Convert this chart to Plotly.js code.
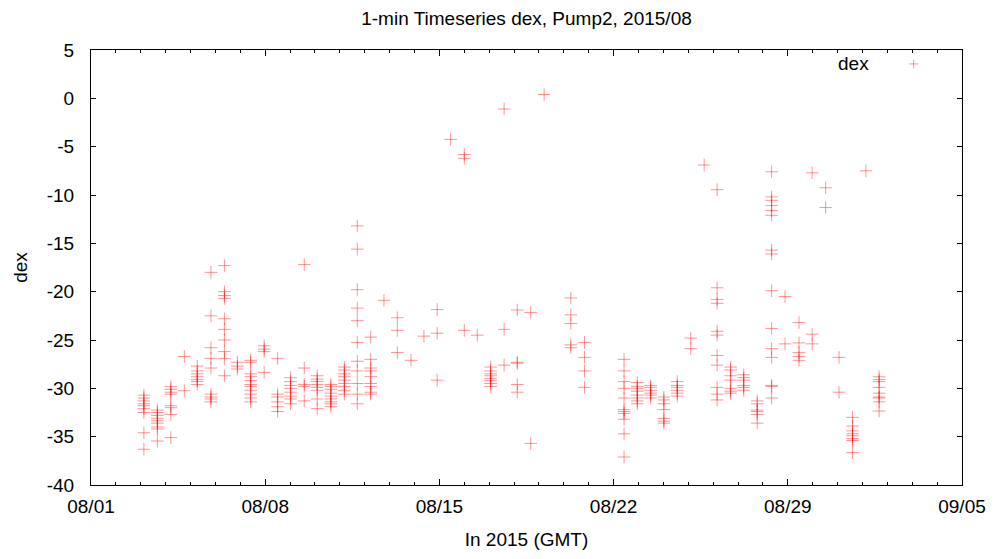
<!DOCTYPE html>
<html>
<head>
<meta charset="utf-8">
<script src="https://cdn.plot.ly/plotly-3.0.1.min.js"></script>
<style>
html,body{margin:0;padding:0;background:#fff;}
#chart{width:998px;height:559px;}
</style>
</head>
<body>
<div id="chart"></div>
<script>
// Time of each measurement burst (GMT)
const clusterTimes = [
  "2015-08-03 03:00","2015-08-03 16:00","2015-08-04 05:00","2015-08-04 18:00",
  "2015-08-05 06:30","2015-08-05 19:40","2015-08-06 08:40","2015-08-06 21:10",
  "2015-08-07 10:00","2015-08-07 23:00","2015-08-08 12:00","2015-08-09 00:30",
  "2015-08-09 13:40","2015-08-10 02:10","2015-08-10 15:20","2015-08-11 04:20",
  "2015-08-11 16:50","2015-08-12 05:45","2015-08-12 18:30","2015-08-13 07:25",
  "2015-08-13 20:40","2015-08-14 09:05","2015-08-14 21:50","2015-08-15 10:50",
  "2015-08-16 00:00","2015-08-16 12:30","2015-08-17 01:25","2015-08-17 14:25",
  "2015-08-18 03:05","2015-08-18 16:05","2015-08-19 05:00","2015-08-20 06:45",
  "2015-08-20 19:55","2015-08-22 10:05","2015-08-22 22:50","2015-08-23 11:45",
  "2015-08-24 00:30","2015-08-24 13:25","2015-08-25 02:25","2015-08-25 15:20",
  "2015-08-26 03:50","2015-08-26 16:50","2015-08-27 05:30","2015-08-27 18:30",
  "2015-08-28 08:25","2015-08-28 21:20","2015-08-29 10:50","2015-08-29 23:30",
  "2015-08-30 12:30","2015-08-31 01:25","2015-08-31 14:25","2015-09-01 03:20",
  "2015-09-01 16:05"
];

// dex values in each burst
const clusterValues = [
  [-30.7,-31.0,-31.3,-31.6,-31.8,-32.1,-32.5,-34.6,-36.3],
  [-32.25,-32.5,-32.8,-33.1,-33.35,-33.6,-34.0,-34.2,-35.45],
  [-29.8,-30.1,-30.4,-30.6,-31.8,-32.0,-32.7,-35.1],
  [-26.7,-30.25],
  [-27.7,-28.2,-28.5,-28.8,-29.1,-29.3,-29.6],
  [-18.0,-22.5,-25.8,-26.9,-27.9,-30.6,-30.9,-31.1,-31.4],
  [-17.3,-20.0,-20.4,-20.7,-22.8,-23.9,-25.0,-26.2,-26.9,-28.7],
  [-27.3,-27.7,-28.0],
  [-27.1,-27.3,-28.5,-28.8,-29.2,-29.6,-29.8,-30.2,-30.6,-31.0,-31.4],
  [-25.6,-25.95,-26.2,-28.35],
  [-26.9,-30.6,-30.9,-31.4,-31.9,-32.4],
  [-28.9,-29.3,-29.7,-30.0,-30.4,-30.8,-31.1,-31.6],
  [-17.2,-27.9,-29.6,-29.8,-31.3],
  [-28.7,-29.05,-29.3,-29.6,-29.9,-30.2,-31.1,-32.1],
  [-29.6,-29.8,-30.1,-30.5,-30.8,-31.1,-31.4,-31.6,-31.9],
  [-27.8,-28.1,-28.5,-28.8,-29.15,-29.5,-29.8,-30.2,-30.6],
  [-13.2,-15.6,-19.8,-21.7,-23.0,-25.25,-27.2,-28.2,-29.5,-30.6,-31.6],
  [-24.7,-27.0,-27.9,-28.2,-28.8,-29.5,-29.8,-30.4,-30.6],
  [-20.9],
  [-22.7,-24.0,-26.3],
  [-27.1],
  [-24.6],
  [-21.85,-24.3,-29.15],
  [-4.25],
  [-5.8,-6.2,-24.0],
  [-24.5],
  [-27.8,-28.2,-28.5,-28.7,-29.0,-29.2,-29.5,-29.8],
  [-1.1,-23.9,-27.6],
  [-21.9,-27.3,-27.4,-29.6,-30.4],
  [-22.15,-35.7],
  [0.4],
  [-20.65,-22.4,-23.3,-25.5,-25.8],
  [-25.25,-26.8,-28.2,-29.9],
  [-27.0,-28.2,-29.3,-30.0,-31.0,-32.2,-32.4,-32.6,-33.2,-34.7,-37.1],
  [-29.4,-29.8,-30.0,-30.3,-30.7,-31.0,-31.3,-31.6],
  [-29.7,-29.9,-30.2,-30.5,-30.7,-31.0],
  [-30.9,-31.2,-31.6,-32.2,-33.1,-33.4,-33.6],
  [-29.3,-29.7,-29.9,-30.2,-30.5,-30.8],
  [-24.8,-25.9],
  [-6.9],
  [-9.45,-19.6,-20.8,-21.2,-24.1,-24.5,-26.6,-27.6,-29.9,-30.6,-31.2],
  [-27.8,-28.1,-28.7,-29.15,-30.0,-30.3,-30.5],
  [-28.6,-28.9,-29.15,-29.7,-29.9,-30.2],
  [-31.3,-31.6,-32.25,-32.4,-32.7,-33.6],
  [-7.6,-10.2,-10.55,-11.1,-11.6,-12.1,-15.7,-16.1,-19.9,-23.8,-25.9,-26.8,-29.7,-29.8,-31.0],
  [-20.5,-25.4],
  [-23.2,-25.3,-26.3,-26.7,-27.1],
  [-7.7,-24.4,-25.4],
  [-9.25,-11.3],
  [-26.8,-30.4],
  [-33.0,-33.9,-34.4,-34.7,-34.9,-35.2,-35.4,-36.65],
  [-7.5],
  [-28.8,-29.1,-29.3,-29.9,-30.5,-30.9,-31.0,-31.4,-32.35]
];

const seriesName = "dex";
const xTickLabels = ["08/01","08/08","08/15","08/22","08/29","09/05"];
const xTickDates = ["2015-08-01","2015-08-08","2015-08-15","2015-08-22","2015-08-29","2015-09-05"];
const yTickValues = [5,0,-5,-10,-15,-20,-25,-30,-35,-40];
const yTickLabels = ["5","0","-5","-10","-15","-20","-25","-30","-35","-40"];

const xs = [], ys = [];
clusterTimes.forEach((t, i) => {
  clusterValues[i].forEach(v => { xs.push(t); ys.push(v); });
});

const markerColor = "rgba(255,0,0,0.42)";
const fontFamily = "Liberation Sans, Arial, Helvetica, sans-serif";

const trace = {
  type: "scatter",
  mode: "markers",
  name: seriesName,
  x: xs,
  y: ys,
  marker: {
    symbol: "cross-thin-open",
    size: 9,
    color: markerColor,
    line: {color: markerColor, width: 1}
  },
  showlegend: false,
  hoverinfo: "x+y"
};

const layout = {
  width: 998,
  height: 559,
  margin: {l: 91, r: 36, t: 50, b: 74, pad: 0},
  paper_bgcolor: "#fff",
  plot_bgcolor: "#fff",
  font: {family: fontFamily, size: 19, color: "#000"},
  title: {
    text: "1-min Timeseries dex, Pump2, 2015/08",
    font: {family: fontFamily, size: 19, color: "#000"},
    x: 0.5, xref: "paper", xanchor: "center",
    y: 0.967, yref: "container", yanchor: "middle"
  },
  xaxis: {
    type: "date",
    range: ["2015-08-01", "2015-09-05"],
    tickmode: "array",
    tickvals: xTickDates,
    ticktext: xTickLabels,
    ticks: "inside",
    ticklen: 6,
    tickwidth: 1,
    tickcolor: "#000",
    ticklabelstandoff: 4,
    minor: {dtick: 86400000, tick0: "2015-08-01", ticks: "inside", ticklen: 3, tickcolor: "#000", showgrid: false},
    showline: true,
    linecolor: "#000",
    linewidth: 1,
    mirror: "allticks",
    showgrid: false,
    zeroline: false,
    tickfont: {family: fontFamily, size: 19, color: "#000"},
    title: {text: "In 2015 (GMT)", font: {family: fontFamily, size: 19, color: "#000"}, standoff: 16}
  },
  yaxis: {
    range: [-40, 5],
    tickmode: "array",
    tickvals: yTickValues,
    ticktext: yTickLabels,
    ticks: "inside",
    ticklen: 5,
    tickwidth: 1,
    tickcolor: "#000",
    showline: true,
    linecolor: "#000",
    linewidth: 1,
    mirror: "allticks",
    showgrid: false,
    zeroline: false,
    ticklabelstandoff: 12,
    tickfont: {family: fontFamily, size: 19, color: "#000"},
    title: {text: "dex", font: {family: fontFamily, size: 19, color: "#000"}, standoff: 14}
  },
  annotations: [{
    text: seriesName,
    xref: "paper", yref: "paper",
    x: 0.895, y: 0.968,
    xanchor: "right", yanchor: "middle",
    showarrow: false,
    font: {family: fontFamily, size: 19, color: "#000"}
  }],
  shapes: [
    {type: "line", xref: "paper", yref: "paper", x0: 0.9394, x1: 0.9497, y0: 0.968, y1: 0.968, line: {color: markerColor, width: 1}},
    {type: "line", xref: "paper", yref: "paper", x0: 0.9445, x1: 0.9445, y0: 0.9577, y1: 0.9783, line: {color: markerColor, width: 1}}
  ]
};

Plotly.newPlot("chart", [trace], layout, {displayModeBar: false, staticPlot: true});
</script>
</body>
</html>
